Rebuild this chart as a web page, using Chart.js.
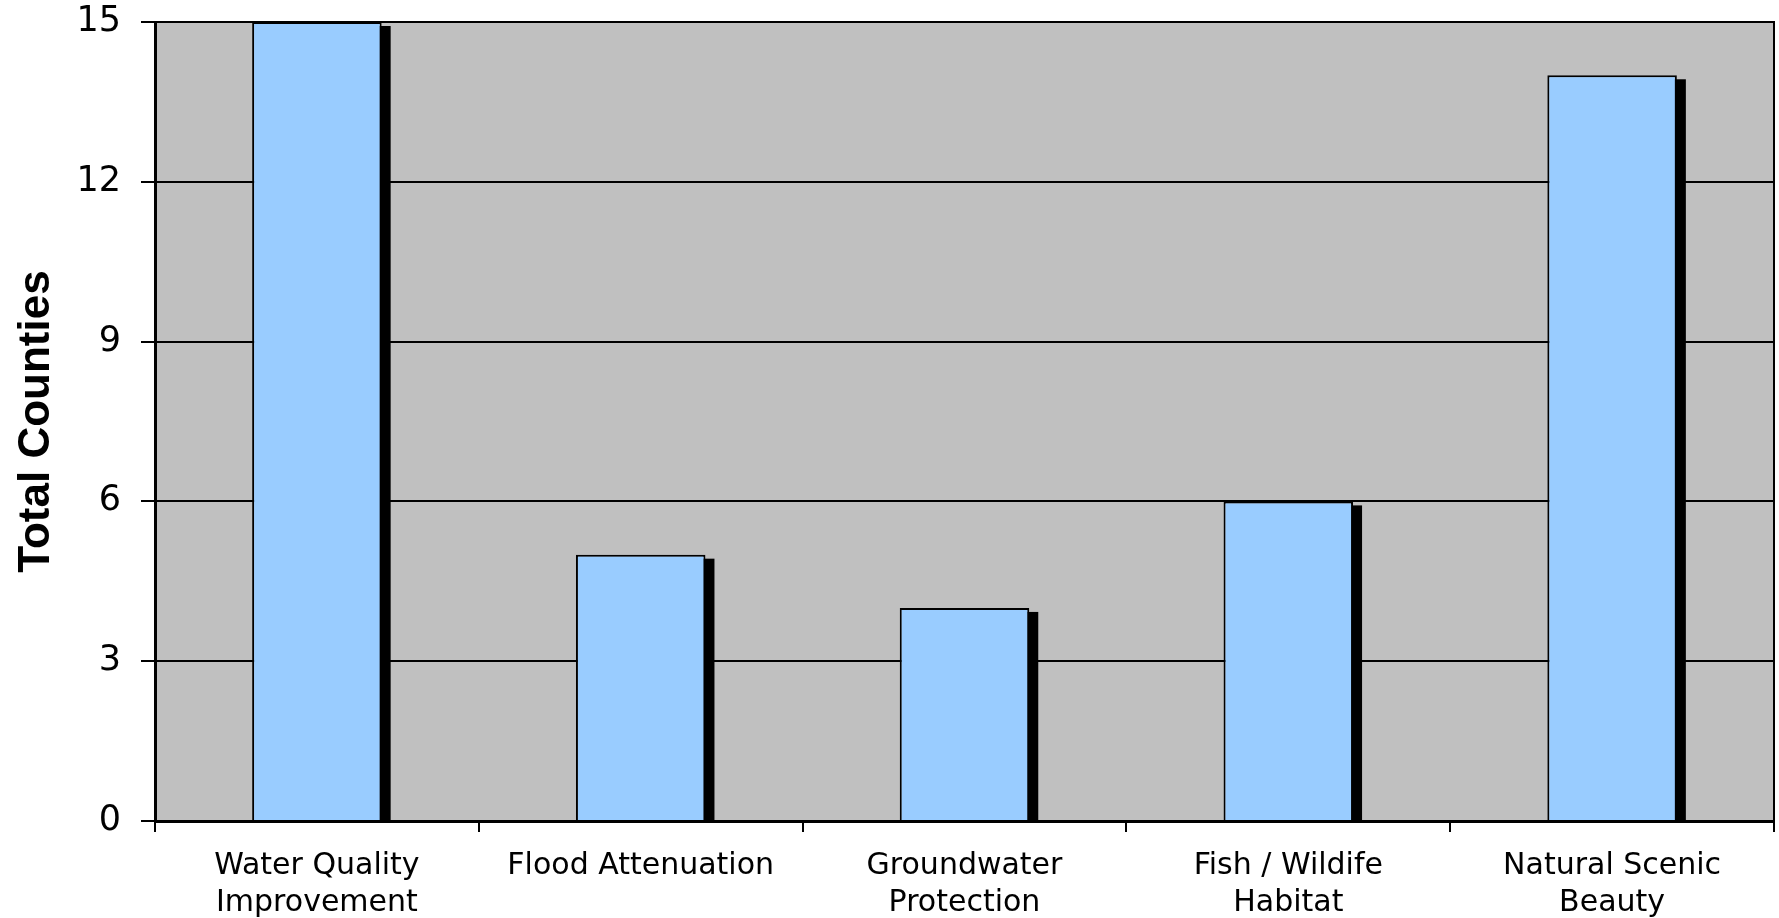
<!DOCTYPE html>
<html>
<head>
<meta charset="utf-8">
<script src="https://cdn.jsdelivr.net/npm/chart.js@4/dist/chart.umd.min.js"></script>
<style>
  html, body { margin: 0; padding: 0; background: #ffffff; }
  #wrap { width: 1779px; height: 918px; }
</style>
</head>
<body>
<div id="wrap"><canvas id="c" width="1779" height="918"></canvas></div>
<script>
const categories = [
  ["Water Quality", "Improvement"],
  ["Flood Attenuation"],
  ["Groundwater", "Protection"],
  ["Fish / Wildife", "Habitat"],
  ["Natural Scenic", "Beauty"]
];
const totalCounties = [15, 5, 4, 6, 14];
const yAxisTitle = "Total Counties";
const yMin = 0, yMax = 15, yStep = 3;

const plotBg = {
  id: 'plotBg',
  beforeDraw(chart) {
    const { ctx, chartArea: a } = chart;
    ctx.save();
    ctx.fillStyle = '#ffffff';
    ctx.fillRect(0, 0, chart.width, chart.height);
    ctx.fillStyle = '#C0C0C0';
    ctx.fillRect(a.left, a.top, a.right - a.left, a.bottom - a.top);
    ctx.restore();
  },
  afterDraw(chart) {
    const { ctx, chartArea: a } = chart;
    ctx.save();
    ctx.strokeStyle = '#000';
    ctx.lineWidth = 2;
    ctx.beginPath();
    ctx.moveTo(a.left, a.top);
    ctx.lineTo(a.right, a.top);
    ctx.lineTo(a.right, a.bottom);
    ctx.stroke();
    ctx.restore();
  }
};

// Drop shadow drawn from the bar elements' own (library-computed) geometry
const barShadow = {
  id: 'barShadow',
  beforeDatasetsDraw(chart) {
    const { ctx, chartArea: a } = chart;
    ctx.save();
    ctx.beginPath();
    ctx.rect(a.left, a.top, a.right - a.left, a.bottom - a.top);
    ctx.clip();
    ctx.fillStyle = '#000000';
    chart.getDatasetMeta(0).data.forEach(bar => {
      const p = bar.getProps(['x', 'y', 'base', 'width'], true);
      const left = p.x - p.width / 2;
      const top = Math.min(p.y, p.base);
      const h = Math.abs(p.base - p.y);
      ctx.fillRect(left + 9, top + 4, p.width, h);
    });
    ctx.restore();
  }
};

new Chart(document.getElementById('c'), {
  type: 'bar',
  data: {
    labels: categories,
    datasets: [{
      data: totalCounties,
      backgroundColor: '#99CCFF',
      borderColor: '#000000',
      borderWidth: 2,
      barPercentage: 0.4,
      categoryPercentage: 1.0
    }]
  },
  options: {
    responsive: false,
    animation: false,
    devicePixelRatio: 1,
    layout: { padding: { top: 22, right: 5, left: 0, bottom: 0 } },
    plugins: { legend: { display: false }, tooltip: { enabled: false } },
    scales: {
      x: {
        afterFit(s) { s.height = 97; s.paddingLeft = 0; s.paddingRight = 0; },
        grid: { display: true, drawOnChartArea: false, drawTicks: true, tickLength: 11, color: '#000', lineWidth: 2, offset: true },
        border: { display: true, color: '#000', width: 3 },
        ticks: { color: '#000', font: { family: 'DejaVu Sans', size: 30, lineHeight: 1.25 }, padding: 15, maxRotation: 0, autoSkip: false }
      },
      y: {
        min: yMin, max: yMax,
        afterFit(s) { s.width = 155; s.paddingTop = 0; s.paddingBottom = 0; },
        grid: { color: '#000', lineWidth: 2, tickLength: 14, drawTicks: true },
        border: { display: true, color: '#000', width: 3 },
        ticks: { stepSize: yStep, color: '#000', font: { family: 'DejaVu Sans', size: 35 }, padding: 20 },
        title: { display: true, text: yAxisTitle, color: '#000', font: { family: 'Liberation Sans', size: 44, weight: 'bold' }, padding: { top: 10, bottom: 0 } }
      }
    }
  },
  plugins: [plotBg, barShadow]
});
</script>
</body>
</html>
